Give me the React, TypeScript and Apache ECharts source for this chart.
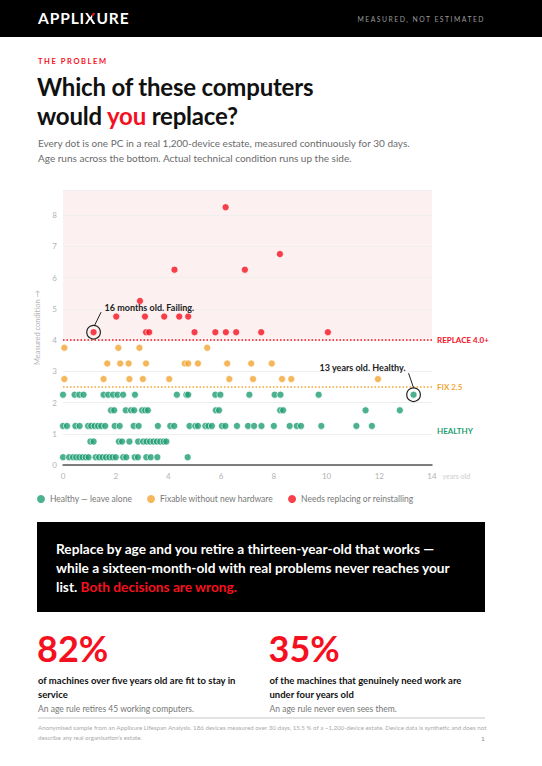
import React, { useEffect, useRef } from 'react';
import * as echarts from 'echarts';

const RED = '#f5101f';
const GREEN = '#1f9e72';
const ORANGE = '#f3a532';

const seriesNames = ['Healthy — leave alone', 'Fixable without new hardware', 'Needs replacing or reinstalling'];

const xTicks = [0, 2, 4, 6, 8, 10, 12, 14];
const yTicks = [0, 1, 2, 3, 4, 5, 6, 7, 8];

// Healthy: condition level -> ages (years)
const healthyLevels = [0.25, 0.75, 1.25, 1.75, 2.25];
const healthyAges025 = [0, 0.23, 0.38, 0.5, 0.62, 0.74, 0.86, 0.97, 1.24, 1.37, 1.5, 1.63, 1.76, 1.88, 2.0, 2.28, 2.4, 2.72, 2.84, 3.16, 3.33, 3.58, 4.73];
const healthyAges075 = [1.04, 1.16, 2.12, 2.24, 2.52, 2.85, 3.04, 3.17, 3.3, 3.43, 3.56, 3.69, 3.82, 3.92];
const healthyAges125 = [0, 0.15, 0.47, 0.63, 0.95, 1.07, 1.2, 1.33, 1.45, 1.6, 1.96, 2.15, 2.68, 2.87, 3.6, 4.07, 4.22, 4.8, 5.02, 5.12, 5.4, 5.52, 5.65, 6.03, 6.16, 6.6, 7.02, 7.25, 7.53, 8.0, 8.6, 8.87, 9.03, 9.8, 11.13, 11.72];
const healthyAges175 = [1.82, 1.94, 2.38, 2.58, 2.7, 3.0, 3.12, 3.22, 5.8, 5.92, 8.24, 8.35, 11.48, 12.78];
const healthyAges225 = [0, 0.44, 0.62, 0.78, 1.54, 1.72, 1.9, 2.07, 2.28, 2.73, 4.32, 4.68, 4.75, 5.78, 5.97, 7.07, 8.03, 8.25, 9.7, 13.3];

// Fixable
const fixLevels = [2.75, 3.25, 3.75];
const fixAges275 = [0.05, 1.54, 2.52, 3.03, 4.03, 6.31, 7.21, 8.31, 8.66, 11.95];
const fixAges325 = [1.68, 2.17, 2.49, 3.15, 4.62, 4.75, 5.12, 6.23, 7.14, 7.92];
const fixAges375 = [0.05, 2.1, 2.9, 5.47];

// Needs replacing
const replaceLevels = [4.25, 4.75, 5.25, 6.25, 6.75, 8.25];
const replaceAges425 = [1.16, 3.15, 3.27, 4.99, 5.78, 6.18, 6.57, 7.52, 10.05];
const replaceAges475 = [2.02, 3.11, 3.84, 4.41, 4.75];
const replaceAges525 = [2.92];
const replaceAges625 = [4.23, 6.9];
const replaceAges675 = [8.23];
const replaceAges825 = [6.17];

const REPLACE_LINE = 4.0;
const FIX_LINE = 2.5;
const HEALTHY_LABEL_Y = 1.1;

const failingPoint = [replaceAges425[0], replaceLevels[0]];
const healthyOldPoint = [healthyAges225[healthyAges225.length - 1], healthyLevels[4]];

function rows(levels: number[], ages: number[][]) {
  const out: number[][] = [];
  levels.forEach((lv, i) => ages[i].forEach((a) => out.push([a, lv])));
  return out;
}

const healthyData = rows(healthyLevels, [healthyAges025, healthyAges075, healthyAges125, healthyAges175, healthyAges225]);
const fixData = rows(fixLevels, [fixAges275, fixAges325, fixAges375]);
const replaceData = rows(replaceLevels, [replaceAges425, replaceAges475, replaceAges525, replaceAges625, replaceAges675, replaceAges825]);

const FONT = 'Lato, "Noto Sans", sans-serif';

function Chart() {
  const ref = useRef<HTMLDivElement>(null);
  useEffect(() => {
    if (!ref.current) return;
    const chart = echarts.init(ref.current, null, { renderer: 'svg' });
    const pink = '#fdf0f0';
    const bands = yTicks.map((t) => (t >= REPLACE_LINE ? pink : '#ffffff'));
    const itemBase = { borderColor: '#ffffff', borderWidth: 0.8 };
    const markLabel = (text: string, color: string) => ({
      show: true, position: 'end', formatter: text, color, fontSize: 8, fontWeight: 'bold', fontFamily: FONT, distance: 5,
    });
    chart.setOption({
      animation: false,
      textStyle: { fontFamily: FONT },
      grid: { left: 63, right: 110, top: 10, height: 275 },
      legend: {
        left: 37, top: 314.5, padding: 0, itemWidth: 8, itemHeight: 8, itemGap: 15, icon: 'circle',
        itemStyle: { borderWidth: 0 },
        textStyle: { color: '#777', fontSize: 8.5, fontFamily: FONT },
        data: seriesNames,
      },
      xAxis: {
        type: 'value', min: xTicks[0], max: xTicks[xTicks.length - 1], interval: 2,
        axisLine: { show: true, lineStyle: { color: '#555', width: 1.5 } },
        axisTick: { show: false },
        splitLine: { show: false },
        axisLabel: { color: '#b3b3b3', fontSize: 8, margin: 7 },
        name: 'years old', nameLocation: 'end', nameGap: 6,
        nameTextStyle: { color: '#cccccc', fontSize: 7, verticalAlign: 'top', padding: [7, 0, 0, 0] },
      },
      yAxis: {
        type: 'value', min: 0, max: 8.8, interval: 1,
        axisLine: { show: false }, axisTick: { show: false },
        splitLine: { show: true, lineStyle: { color: '#eeeeee', width: 1 } },
        splitArea: { show: true, areaStyle: { color: bands } },
        axisLabel: { color: '#b3b3b3', fontSize: 8, margin: 6, showMaxLabel: false, formatter: (v: number) => (Number.isInteger(v) ? String(v) : '') },
        name: 'Measured condition →', nameLocation: 'middle', nameGap: 20,
        nameTextStyle: { color: '#b3b3b3', fontSize: 7.5 },
      },
      series: [
        {
          name: seriesNames[0], type: 'scatter', symbol: 'circle', symbolSize: 7, data: healthyData,
          itemStyle: { color: GREEN, ...itemBase },
          markLine: {
            silent: true, symbol: 'none', data: [{ yAxis: HEALTHY_LABEL_Y }],
            lineStyle: { color: 'rgba(0,0,0,0)', width: 0.1 },
            label: markLabel('HEALTHY', GREEN),
          },
        },
        {
          name: seriesNames[1], type: 'scatter', symbol: 'circle', symbolSize: 7, data: fixData,
          itemStyle: { color: ORANGE, ...itemBase },
          markLine: {
            silent: true, symbol: 'none', data: [{ yAxis: FIX_LINE }],
            lineStyle: { color: ORANGE, width: 1.5, type: [1.5, 2] },
            label: markLabel('FIX 2.5', ORANGE),
          },
        },
        {
          name: seriesNames[2], type: 'scatter', symbol: 'circle', symbolSize: 7, data: replaceData,
          itemStyle: { color: RED, ...itemBase },
          markLine: {
            silent: true, symbol: 'none', data: [{ yAxis: REPLACE_LINE }],
            lineStyle: { color: RED, width: 1.5, type: [1.5, 2] },
            label: markLabel('REPLACE 4.0+', RED),
          },
        },
      ],
    });
    const p1 = chart.convertToPixel({ gridIndex: 0 }, failingPoint) as number[];
    const p2 = chart.convertToPixel({ gridIndex: 0 }, healthyOldPoint) as number[];
    const ink = '#222222';
    chart.setOption({
      graphic: [
        { type: 'circle', z: 100, shape: { cx: p1[0], cy: p1[1], r: 6.8 }, style: { fill: 'none', stroke: ink, lineWidth: 1.2 } },
        { type: 'line', z: 100, shape: { x1: p1[0] + 1, y1: p1[1] - 6.8, x2: p1[0] + 7.5, y2: p1[1] - 20 }, style: { stroke: ink, lineWidth: 1 } },
        { type: 'text', z: 100, x: p1[0] + 11, y: p1[1] - 25, style: { text: '16 months old. Failing.', fill: ink, fontSize: 9, fontWeight: 'bold', fontFamily: FONT, align: 'left', verticalAlign: 'middle' } },
        { type: 'circle', z: 100, shape: { cx: p2[0], cy: p2[1], r: 6.8 }, style: { fill: 'none', stroke: ink, lineWidth: 1.2 } },
        { type: 'line', z: 100, shape: { x1: p2[0] - 5, y1: p2[1] - 21.5, x2: p2[0], y2: p2[1] - 6.8 }, style: { stroke: ink, lineWidth: 1 } },
        { type: 'text', z: 100, x: p2[0] - 8, y: p2[1] - 27.5, style: { text: '13 years old. Healthy.', fill: ink, fontSize: 9, fontWeight: 'bold', fontFamily: FONT, align: 'right', verticalAlign: 'middle' } },
      ],
    });
    return () => chart.dispose();
  }, []);
  return <div ref={ref} style={{ position: 'absolute', left: 0, top: 180, width: 542, height: 335 }} />;
}

export default function App() {
  const abs = (o: React.CSSProperties): React.CSSProperties => ({ position: 'absolute', ...o });
  return (
    <div style={{ position: 'absolute', left: 0, top: 0, width: 542, height: 766, background: '#fff', overflow: 'hidden', fontFamily: FONT, color: '#111' }}>
      <div style={abs({ left: 0, top: 0, width: 542, height: 37, background: '#000' })}>
        <div style={abs({ left: 38, top: 9, fontSize: 15.5, fontWeight: 700, color: '#fff', letterSpacing: 0.9, lineHeight: '19px' })}>
          APPLI
          <span style={{ background: 'linear-gradient(to bottom left, #ff1a1a 0 38%, #ffffff 38% 100%)', WebkitBackgroundClip: 'text', backgroundClip: 'text', color: 'transparent' }}>X</span>
          URE
        </div>
        <div style={abs({ right: 57, top: 13.5, fontSize: 6.8, color: '#9a9a9a', letterSpacing: 1.5, lineHeight: '10px' })}>MEASURED, NOT ESTIMATED</div>
      </div>
      <div style={abs({ left: 38, top: 56.5, fontSize: 7.5, fontWeight: 700, color: RED, letterSpacing: 1.6, lineHeight: '10px' })}>THE PROBLEM</div>
      <div style={abs({ left: 37, top: 73, fontSize: 24, fontWeight: 700, color: '#111', lineHeight: '28.5px', letterSpacing: -0.2 })}>
        Which of these computers<br />would <span style={{ color: RED }}>you</span> replace?
      </div>
      <div style={abs({ left: 38, top: 135.8, fontSize: 10, color: '#6b6b6b', lineHeight: '15px' })}>
        Every dot is one PC in a real 1,200-device estate, measured continuously for 30 days.<br />
        Age runs across the bottom. Actual technical condition runs up the side.
      </div>
      <Chart />
      <div style={abs({ left: 37.3, top: 522.3, width: 447.7, height: 89.4, background: '#000', boxSizing: 'border-box', padding: '16.5px 0 0 18.7px', color: '#fff', fontSize: 13.7, fontWeight: 700, lineHeight: '19px' })}>
        Replace by age and you retire a thirteen-year-old that works —<br />
        while a sixteen-month-old with real problems never reaches your<br />
        list. <span style={{ color: RED }}>Both decisions are wrong.</span>
      </div>
      <div style={abs({ left: 37, top: 629, fontSize: 36, fontWeight: 700, color: RED, lineHeight: '38px' })}>82%</div>
      <div style={abs({ left: 268.5, top: 629, fontSize: 36, fontWeight: 700, color: RED, lineHeight: '38px' })}>35%</div>
      <div style={abs({ left: 38, top: 674, fontSize: 9.5, fontWeight: 700, color: '#111', lineHeight: '13.7px' })}>
        of machines over five years old are fit to stay in<br />service
      </div>
      <div style={abs({ left: 269.5, top: 674, fontSize: 9.5, fontWeight: 700, color: '#111', lineHeight: '13.7px' })}>
        of the machines that genuinely need work are<br />under four years old
      </div>
      <div style={abs({ left: 38, top: 703, fontSize: 8.5, color: '#777', lineHeight: '12px' })}>An age rule retires 45 working computers.</div>
      <div style={abs({ left: 269.5, top: 703, fontSize: 8.5, color: '#777', lineHeight: '12px' })}>An age rule never even sees them.</div>
      <div style={abs({ left: 38, top: 717, width: 447, height: 1.5, background: '#e2e2e2' })} />
      <div style={abs({ left: 38, top: 723.3, fontSize: 6.2, color: '#aaa', lineHeight: '10px' })}>
        Anonymised sample from an Applixure Lifespan Analysis. 186 devices measured over 30 days, 15.5 % of a ~1,200-device estate. Device data is synthetic and does not<br />
        describe any real organisation’s estate.
      </div>
      <div style={abs({ left: 481, top: 734, fontSize: 6.5, color: '#888', lineHeight: '10px' })}>1</div>
    </div>
  );
}
